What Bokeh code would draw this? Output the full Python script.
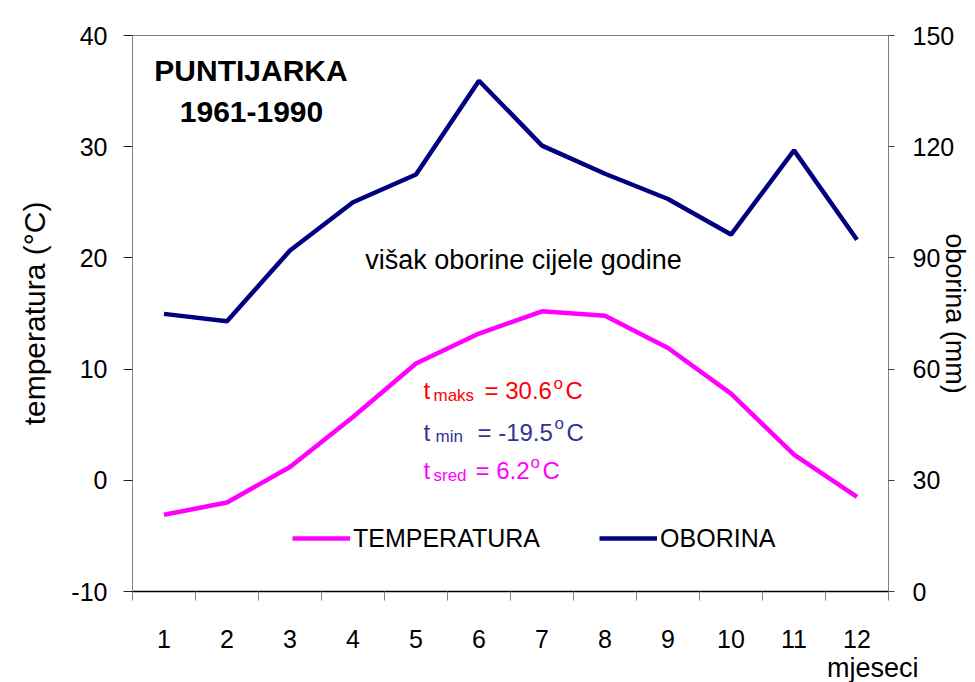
from bokeh.plotting import figure
from bokeh.models import Range1d, LinearAxis, FixedTicker, Label, Legend, LegendItem, Title
from bokeh.embed import file_html
from bokeh.resources import INLINE

# ---- data ----
months = [1, 2, 3, 4, 5, 6, 7, 8, 9, 10, 11, 12]
month_labels = ["1", "2", "3", "4", "5", "6", "7", "8", "9", "10", "11", "12"]
temperatura = [-3.1, -2.0, 1.2, 5.7, 10.5, 13.2, 15.2, 14.8, 11.9, 7.8, 2.3, -1.5]
oborina = [74.9, 72.9, 92.0, 105.0, 112.5, 137.8, 120.3, 112.7, 105.9, 96.3, 119.0, 94.9]
temp_ticks = [-10, 0, 10, 20, 30, 40]
temp_tick_labels = ["-10", "0", "10", "20", "30", "40"]
obor_ticks = [0, 30, 60, 90, 120, 150]

FONT = "Liberation Sans"
W, H = 975, 682

p = figure(width=W, height=H, title=None,
           x_range=Range1d(0.5, 12.5), y_range=Range1d(-10, 40),
           output_backend="svg", toolbar_location=None,
           min_border_left=132, min_border_right=87,
           min_border_top=35, min_border_bottom=91)
p.extra_y_ranges = {"obo": Range1d(0, 150)}
p.xgrid.visible = False
p.ygrid.visible = False
p.outline_line_color = "#808080"
p.outline_line_width = 1
p.background_fill_color = "white"
p.border_fill_color = "white"

# x axis
xa = p.xaxis[0]
xa.ticker = FixedTicker(ticks=months, minor_ticks=[0.5 + i for i in range(13)])
xa.major_label_overrides = {m: l for m, l in zip(months, month_labels)}
xa.major_tick_out = 0
xa.major_tick_in = 0
xa.minor_tick_out = 9
xa.minor_tick_in = 0
xa.minor_tick_line_color = "#808080"
xa.axis_line_color = "black"
xa.axis_line_width = 1.5
xa.major_label_standoff = 29
xa.major_label_text_font = FONT
xa.major_label_text_font_size = "25px"
xa.major_label_text_color = "black"

p.add_layout(Title(text="mjeseci", align="right", offset=-30, text_font=FONT,
                   text_font_size="27px", text_font_style="normal",
                   text_color="black", standoff=0), "below")

# left y axis
ya = p.yaxis[0]
ya.ticker = FixedTicker(ticks=temp_ticks, minor_ticks=[])
ya.major_label_overrides = {t: l for t, l in zip(temp_ticks, temp_tick_labels)}
ya.major_tick_out = 9
ya.major_tick_in = 0
ya.minor_tick_out = 0
ya.minor_tick_in = 0
ya.axis_line_color = "#808080"
ya.major_tick_line_color = "#202020"
ya.major_label_standoff = 16
ya.major_label_text_font = FONT
ya.major_label_text_font_size = "25px"
ya.major_label_text_color = "black"
ya.axis_label = "temperatura (°C)"
ya.axis_label_standoff = 17
ya.axis_label_text_font = FONT
ya.axis_label_text_font_size = "30px"
ya.axis_label_text_font_style = "normal"
ya.axis_label_text_color = "black"

# right y axis
ra = LinearAxis(y_range_name="obo", ticker=FixedTicker(ticks=obor_ticks, minor_ticks=[]))
ra.major_tick_out = 6
ra.major_tick_in = 0
ra.minor_tick_out = 0
ra.minor_tick_in = 0
ra.axis_line_color = "#808080"
ra.major_tick_line_color = "#404040"
ra.major_label_standoff = 18
ra.major_label_text_font = FONT
ra.major_label_text_font_size = "25px"
ra.major_label_text_color = "black"
ra.axis_label = "oborina (mm)"
ra.axis_label_standoff = -17
ra.axis_label_text_font = FONT
ra.axis_label_text_font_size = "27px"
ra.axis_label_text_font_style = "normal"
ra.axis_label_text_color = "black"
p.add_layout(ra, "right")

# lines
r_t = p.line(months, temperatura, line_color="#FF00FF", line_width=4.5)
r_o = p.line(months, oborina, line_color="#000080", line_width=4.5, y_range_name="obo")

legend = Legend(items=[LegendItem(label="TEMPERATURA", renderers=[r_t]),
                       LegendItem(label="OBORINA", renderers=[r_o])],
                location=(160, 38), orientation="horizontal",
                glyph_width=58, glyph_height=30, label_height=30,
                label_standoff=3, spacing=59, padding=0, margin=0,
                border_line_color=None, background_fill_alpha=0,
                label_text_font=FONT, label_text_font_size="25px",
                label_text_color="black")
p.add_layout(legend)

DY = 10


def lab(text, x, y, size, color="black", bold=False, align="left",
        baseline="alphabetic", angle=0):
    p.add_layout(Label(x=x, y=y + DY, x_units="screen", y_units="screen", text=text,
                       text_font=FONT, text_font_size=f"{size}px",
                       text_font_style="bold" if bold else "normal",
                       text_color=color, text_align=align, text_baseline=baseline,
                       angle=angle, angle_units="deg"))


# titles
lab("PUNTIJARKA", 118.5, 511, 30, bold=True, align="center")
lab("1961-1990", 119, 470, 30, bold=True, align="center")
lab("višak oborine cijele godine", 391, 322, 27, align="center")

# stats
RED, BLUE, MAG = "#FF0000", "#333399", "#FF00FF"
lab("t", 291, 191, 24, RED)
lab("maks", 301, 186, 17, RED)
lab("= 30.6", 352, 191, 24, RED)
lab("o", 421, 198, 17, RED)
lab("C", 433, 191, 24, RED)

lab("t", 291, 149, 24, BLUE)
lab("min", 303, 145, 17, BLUE)
lab("= -19.5", 345, 149, 24, BLUE)
lab("o", 422, 158, 17, BLUE)
lab("C", 434, 149, 24, BLUE)

lab("t", 291, 111, 24, MAG)
lab("sred", 301, 106, 17, MAG)
lab("= 6.2", 343, 111, 24, MAG)
lab("o", 398, 119, 17, MAG)
lab("C", 410, 111, 24, MAG)

open("out.html", "w").write(file_html(p, INLINE))
